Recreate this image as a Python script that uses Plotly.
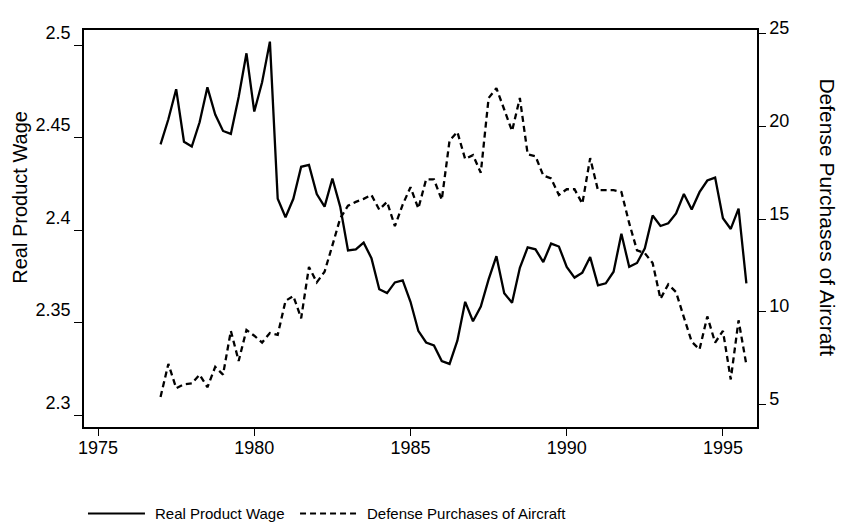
import plotly.graph_objects as go

# Quarterly dates 1977Q1 .. 1995Q4
quarters = [1977 + q / 4 for q in range(76)]

real_product_wage = [
    2.4465, 2.4601, 2.4764, 2.4480, 2.4454, 2.4585, 2.4774, 2.4627,
    2.4538, 2.4522, 2.4722, 2.4958, 2.4643, 2.4801, 2.5021, 2.4171,
    2.4071, 2.4171, 2.4344, 2.4354, 2.4197, 2.4129, 2.4281, 2.4129,
    2.3892, 2.3898, 2.3934, 2.3850, 2.3682, 2.3661, 2.3719, 2.3730,
    2.3614, 2.3457, 2.3394, 2.3378, 2.3294, 2.3278, 2.3404, 2.3614,
    2.3509, 2.3588, 2.3735, 2.3861, 2.3661, 2.3609, 2.3798, 2.3908,
    2.3898, 2.3829, 2.3929, 2.3913, 2.3803, 2.3745, 2.3772, 2.3856,
    2.3703, 2.3714, 2.3777, 2.3982, 2.3803, 2.3824, 2.3903, 2.4081,
    2.4024, 2.4039, 2.4092, 2.4197, 2.4113, 2.4207, 2.4270, 2.4286,
    2.4066, 2.4008, 2.4118, 2.3714,
]

defense_aircraft = [
    5.42, 7.20, 5.89, 6.10, 6.15, 6.62, 5.94, 7.04,
    6.62, 8.98, 7.36, 9.03, 8.72, 8.35, 8.87, 8.77,
    10.60, 10.86, 9.66, 12.43, 11.60, 12.17, 13.59, 15.05,
    15.73, 15.94, 16.10, 16.31, 15.52, 15.94, 14.63, 15.79,
    16.73, 15.58, 17.15, 17.15, 16.05, 19.24, 19.71, 18.25,
    18.46, 17.51, 21.54, 22.07, 20.92, 19.76, 21.54, 18.51,
    18.40, 17.36, 17.20, 16.31, 16.62, 16.62, 15.84, 18.30,
    16.57, 16.57, 16.57, 16.47, 14.79, 13.32, 13.17, 12.64,
    10.71, 11.49, 11.07, 9.71, 8.40, 7.98, 9.76, 8.35,
    8.98, 6.36, 9.55, 7.15,
]

x_ticks = [1975, 1980, 1985, 1990, 1995]
left_ticks = [2.3, 2.35, 2.4, 2.45, 2.5]
left_ticktext = ["2.3", "2.35", "2.4", "2.45", "2.5"]
right_ticks = [5, 10, 15, 20, 25]

series_names = ["Real Product Wage", "Defense Purchases of Aircraft"]

FONT = "Liberation Sans, Arial, Helvetica, sans-serif"

fig = go.Figure()
fig.add_trace(go.Scatter(
    x=quarters, y=real_product_wage, mode="lines", name=series_names[0],
    line=dict(color="black", width=2.3), yaxis="y", showlegend=False,
))
fig.add_trace(go.Scatter(
    x=quarters, y=defense_aircraft, mode="lines", name=series_names[1],
    line=dict(color="black", width=2.3, dash="6px,4px"), yaxis="y2", showlegend=False,
))

axis_common = dict(
    showgrid=False, zeroline=False, showline=True, linecolor="black", linewidth=1.5,
    ticks="outside", tickcolor="black", tickwidth=1.2,
    tickfont=dict(family=FONT, size=18, color="black"),
)

# The page body adds an 8px offset; the figure is sized so that the plot area
# lands at the same window position as in the reference.
fig.update_layout(
    width=836, height=521,
    margin=dict(l=76, r=87, t=10, b=102),
    paper_bgcolor="white", plot_bgcolor="white",
    font=dict(family=FONT, color="black"),
    xaxis=dict(range=[1974.55, 1996.09], tickvals=x_ticks, ticklen=7, mirror=True,
               ticklabelstandoff=-3, **axis_common),
    yaxis=dict(range=[2.2937, 2.5084], tickvals=left_ticks, ticktext=left_ticktext,
               ticklen=8, mirror=True, ticklabelshift=-13, **axis_common),
    yaxis2=dict(range=[3.796, 25.209], tickvals=right_ticks, overlaying="y", side="right",
                ticklen=7, ticklabelshift=-6, **axis_common),
)

# Axis titles
fig.add_annotation(text=series_names[0], xref="paper", yref="paper", x=-0.0951, y=0.58,
                   xanchor="center", yanchor="middle", borderpad=0,
                   textangle=-90, showarrow=False, font=dict(family=FONT, size=20, color="black"))
fig.add_annotation(text=series_names[1], xref="paper", yref="paper", x=1.1055, y=0.528,
                   xanchor="center", yanchor="middle",
                   textangle=90, showarrow=False, font=dict(family=FONT, size=21, color="black"))

# Legend (drawn below plot)
ly = -0.2176
fig.add_shape(type="line", xref="paper", yref="paper", x0=0.0059, x1=0.0906, y0=ly, y1=ly,
              line=dict(color="black", width=2))
fig.add_annotation(text=series_names[0], xref="paper", yref="paper", x=0.1025, y=ly,
                   xanchor="left", yanchor="middle", showarrow=False,
                   font=dict(family=FONT, size=15, color="black"))
fig.add_shape(type="line", xref="paper", yref="paper", x0=0.321, x1=0.410, y0=ly, y1=ly,
              line=dict(color="black", width=2, dash="6px,4px"))
fig.add_annotation(text=series_names[1], xref="paper", yref="paper", x=0.4175, y=ly,
                   xanchor="left", yanchor="middle", showarrow=False,
                   font=dict(family=FONT, size=15, color="black"))

fig.write_html("out.html")
